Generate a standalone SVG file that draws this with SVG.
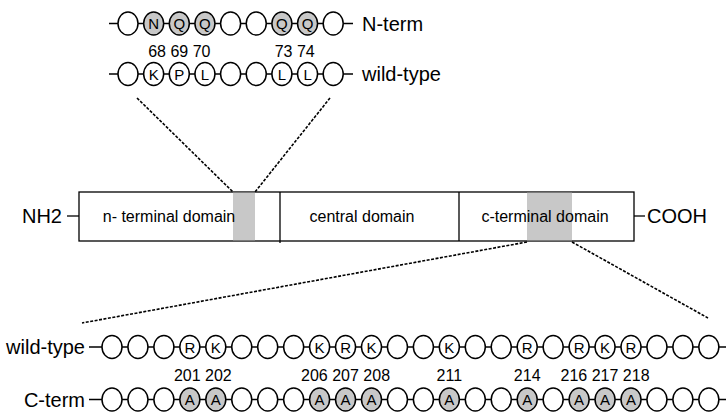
<svg xmlns="http://www.w3.org/2000/svg" width="726" height="412" viewBox="0 0 726 412">
<style>
text{font-family:"Liberation Sans",Arial,sans-serif;fill:#000}
.lab{font-size:20px}
.num{font-size:16px;text-anchor:middle}
.dom{font-size:16px;text-anchor:middle}
.res{font-size:15px;text-anchor:middle}
.o{fill:#fff;stroke:#000;stroke-width:1.5}
.g{fill:#c8c8c8;stroke:#000;stroke-width:1.5}
.ln{stroke:#000;stroke-width:1.3;fill:none}
.dash{stroke:#000;stroke-width:1.6;fill:none;stroke-dasharray:3 1.5}
</style>
<rect width="726" height="412" fill="#fff"/>
<g id="connectors">
<line class="dash" x1="137" y1="98" x2="233" y2="192"/>
<line class="dash" x1="330" y1="98" x2="255" y2="192"/>
<line class="dash" x1="527" y1="242" x2="82" y2="323"/>
<line class="dash" x1="572" y1="242" x2="708" y2="318"/>
</g>
<g id="n-term-row">
<line class="ln" x1="109" y1="23.5" x2="353" y2="23.5"/>
<ellipse class="o" cx="128" cy="23.5" rx="10" ry="11.5"/>
<ellipse class="g" cx="153.65" cy="23.5" rx="10" ry="11.5"/>
<ellipse class="g" cx="179.3" cy="23.5" rx="10" ry="11.5"/>
<ellipse class="g" cx="204.95" cy="23.5" rx="10" ry="11.5"/>
<ellipse class="o" cx="230.6" cy="23.5" rx="10" ry="11.5"/>
<ellipse class="o" cx="256.25" cy="23.5" rx="10" ry="11.5"/>
<ellipse class="g" cx="281.9" cy="23.5" rx="10" ry="11.5"/>
<ellipse class="g" cx="307.55" cy="23.5" rx="10" ry="11.5"/>
<ellipse class="o" cx="333.2" cy="23.5" rx="10" ry="11.5"/>
<text class="res" x="153.65" y="29">N</text>
<text class="res" x="179.3" y="29">Q</text>
<text class="res" x="204.95" y="29">Q</text>
<text class="res" x="281.9" y="29">Q</text>
<text class="res" x="307.55" y="29">Q</text>
<text class="lab" x="362" y="31">N-term</text>
</g>
<g id="top-numbers">
<text class="num" x="179.3" y="57">68 69 70</text>
<text class="num" x="294.7" y="57">73 74</text>
</g>
<g id="wt-top-row">
<line class="ln" x1="109" y1="74" x2="353" y2="74"/>
<ellipse class="o" cx="128" cy="74" rx="10" ry="11.5"/>
<ellipse class="o" cx="153.65" cy="74" rx="10" ry="11.5"/>
<ellipse class="o" cx="179.3" cy="74" rx="10" ry="11.5"/>
<ellipse class="o" cx="204.95" cy="74" rx="10" ry="11.5"/>
<ellipse class="o" cx="230.6" cy="74" rx="10" ry="11.5"/>
<ellipse class="o" cx="256.25" cy="74" rx="10" ry="11.5"/>
<ellipse class="o" cx="281.9" cy="74" rx="10" ry="11.5"/>
<ellipse class="o" cx="307.55" cy="74" rx="10" ry="11.5"/>
<ellipse class="o" cx="333.2" cy="74" rx="10" ry="11.5"/>
<text class="res" x="153.65" y="79.5">K</text>
<text class="res" x="179.3" y="79.5">P</text>
<text class="res" x="204.95" y="79.5">L</text>
<text class="res" x="281.9" y="79.5">L</text>
<text class="res" x="307.55" y="79.5">L</text>
<text class="lab" x="362" y="81">wild-type</text>
</g>
<g id="protein">
<line class="ln" x1="67" y1="216" x2="79" y2="216"/>
<line class="ln" x1="634" y1="216" x2="645" y2="216"/>
<rect x="79" y="192" width="555" height="49" fill="#fff" stroke="#000" stroke-width="1.3"/>
<rect x="233" y="192.7" width="22" height="47.6" fill="#c8c8c8"/>
<rect x="527" y="192.7" width="45" height="47.6" fill="#c8c8c8"/>
<line class="ln" x1="280" y1="192" x2="280" y2="243"/>
<line class="ln" x1="459" y1="192" x2="459" y2="241"/>
<text class="dom" x="169" y="222">n- terminal domain</text>
<text class="dom" x="362" y="222">central domain</text>
<text class="dom" x="545" y="222">c-terminal domain</text>
<text class="lab" x="62" y="223" text-anchor="end">NH2</text>
<text class="lab" x="647" y="223">COOH</text>
</g>
<g id="wt-bottom-row">
<line class="ln" x1="89" y1="347" x2="726" y2="347"/>
<ellipse class="o" cx="112" cy="347" rx="10" ry="11.5"/>
<ellipse class="o" cx="137.95" cy="347" rx="10" ry="11.5"/>
<ellipse class="o" cx="163.9" cy="347" rx="10" ry="11.5"/>
<ellipse class="o" cx="189.85" cy="347" rx="10" ry="11.5"/>
<ellipse class="o" cx="215.8" cy="347" rx="10" ry="11.5"/>
<ellipse class="o" cx="241.75" cy="347" rx="10" ry="11.5"/>
<ellipse class="o" cx="267.7" cy="347" rx="10" ry="11.5"/>
<ellipse class="o" cx="293.65" cy="347" rx="10" ry="11.5"/>
<ellipse class="o" cx="319.6" cy="347" rx="10" ry="11.5"/>
<ellipse class="o" cx="345.55" cy="347" rx="10" ry="11.5"/>
<ellipse class="o" cx="371.5" cy="347" rx="10" ry="11.5"/>
<ellipse class="o" cx="397.45" cy="347" rx="10" ry="11.5"/>
<ellipse class="o" cx="423.4" cy="347" rx="10" ry="11.5"/>
<ellipse class="o" cx="449.35" cy="347" rx="10" ry="11.5"/>
<ellipse class="o" cx="475.3" cy="347" rx="10" ry="11.5"/>
<ellipse class="o" cx="501.25" cy="347" rx="10" ry="11.5"/>
<ellipse class="o" cx="527.2" cy="347" rx="10" ry="11.5"/>
<ellipse class="o" cx="553.15" cy="347" rx="10" ry="11.5"/>
<ellipse class="o" cx="579.1" cy="347" rx="10" ry="11.5"/>
<ellipse class="o" cx="605.05" cy="347" rx="10" ry="11.5"/>
<ellipse class="o" cx="631" cy="347" rx="10" ry="11.5"/>
<ellipse class="o" cx="656.95" cy="347" rx="10" ry="11.5"/>
<ellipse class="o" cx="682.9" cy="347" rx="10" ry="11.5"/>
<ellipse class="o" cx="708.85" cy="347" rx="10" ry="11.5"/>
<text class="res" x="189.85" y="352.5">R</text>
<text class="res" x="215.8" y="352.5">K</text>
<text class="res" x="319.6" y="352.5">K</text>
<text class="res" x="345.55" y="352.5">R</text>
<text class="res" x="371.5" y="352.5">K</text>
<text class="res" x="449.35" y="352.5">K</text>
<text class="res" x="527.2" y="352.5">R</text>
<text class="res" x="579.1" y="352.5">R</text>
<text class="res" x="605.05" y="352.5">K</text>
<text class="res" x="631" y="352.5">R</text>
<text class="lab" x="85" y="354" text-anchor="end">wild-type</text>
</g>
<g id="bottom-numbers">
<text class="num" x="202.8" y="381">201 202</text>
<text class="num" x="345.55" y="381">206 207 208</text>
<text class="num" x="449.35" y="381">211</text>
<text class="num" x="527.2" y="381">214</text>
<text class="num" x="605.05" y="381">216 217 218</text>
</g>
<g id="c-term-row">
<line class="ln" x1="89" y1="399.5" x2="726" y2="399.5"/>
<ellipse class="o" cx="112" cy="399.5" rx="10" ry="11.5"/>
<ellipse class="o" cx="137.95" cy="399.5" rx="10" ry="11.5"/>
<ellipse class="o" cx="163.9" cy="399.5" rx="10" ry="11.5"/>
<ellipse class="g" cx="189.85" cy="399.5" rx="10" ry="11.5"/>
<ellipse class="g" cx="215.8" cy="399.5" rx="10" ry="11.5"/>
<ellipse class="o" cx="241.75" cy="399.5" rx="10" ry="11.5"/>
<ellipse class="o" cx="267.7" cy="399.5" rx="10" ry="11.5"/>
<ellipse class="o" cx="293.65" cy="399.5" rx="10" ry="11.5"/>
<ellipse class="g" cx="319.6" cy="399.5" rx="10" ry="11.5"/>
<ellipse class="g" cx="345.55" cy="399.5" rx="10" ry="11.5"/>
<ellipse class="g" cx="371.5" cy="399.5" rx="10" ry="11.5"/>
<ellipse class="o" cx="397.45" cy="399.5" rx="10" ry="11.5"/>
<ellipse class="o" cx="423.4" cy="399.5" rx="10" ry="11.5"/>
<ellipse class="g" cx="449.35" cy="399.5" rx="10" ry="11.5"/>
<ellipse class="o" cx="475.3" cy="399.5" rx="10" ry="11.5"/>
<ellipse class="o" cx="501.25" cy="399.5" rx="10" ry="11.5"/>
<ellipse class="g" cx="527.2" cy="399.5" rx="10" ry="11.5"/>
<ellipse class="o" cx="553.15" cy="399.5" rx="10" ry="11.5"/>
<ellipse class="g" cx="579.1" cy="399.5" rx="10" ry="11.5"/>
<ellipse class="g" cx="605.05" cy="399.5" rx="10" ry="11.5"/>
<ellipse class="g" cx="631" cy="399.5" rx="10" ry="11.5"/>
<ellipse class="o" cx="656.95" cy="399.5" rx="10" ry="11.5"/>
<ellipse class="o" cx="682.9" cy="399.5" rx="10" ry="11.5"/>
<ellipse class="o" cx="708.85" cy="399.5" rx="10" ry="11.5"/>
<text class="res" x="189.85" y="405">A</text>
<text class="res" x="215.8" y="405">A</text>
<text class="res" x="319.6" y="405">A</text>
<text class="res" x="345.55" y="405">A</text>
<text class="res" x="371.5" y="405">A</text>
<text class="res" x="449.35" y="405">A</text>
<text class="res" x="527.2" y="405">A</text>
<text class="res" x="579.1" y="405">A</text>
<text class="res" x="605.05" y="405">A</text>
<text class="res" x="631" y="405">A</text>
<text class="lab" x="85" y="407" text-anchor="end">C-term</text>
</g>
</svg>
